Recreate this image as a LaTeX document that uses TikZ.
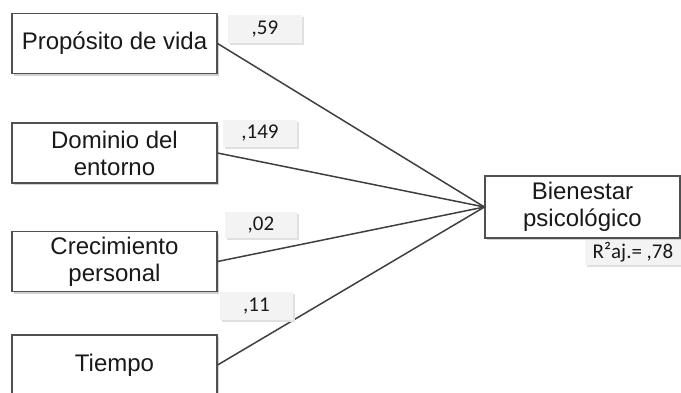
\documentclass[tikz,border=0pt]{standalone}
\usepackage{fontspec}
\setmainfont{Liberation Sans}
\newfontfamily\labelfont{Carlito}
\usepackage{xcolor}
\usepackage{tikz}
\usetikzlibrary{shadows}
\definecolor{edgegray}{HTML}{3F3F3F}
\definecolor{boxline}{HTML}{505050}
\definecolor{tagfill}{HTML}{F3F3F3}
\tikzset{
  varbox/.style={draw=boxline,line width=1.1pt,fill=white,rectangle,align=center,
    minimum width=205pt,minimum height=60pt,inner sep=0pt,text=black!90,
    font=\fontsize{24}{27}\selectfont,
    drop shadow={shadow xshift=1.5pt,shadow yshift=-2pt,fill=black!18,opacity=1}},
  coeftag/.style={fill=tagfill,rectangle,minimum width=73pt,minimum height=27pt,
    inner sep=0pt,text=black!90,font=\labelfont\fontsize{21}{23}\selectfont,
    drop shadow={shadow xshift=2pt,shadow yshift=-2pt,fill=black!12,opacity=1}},
  pathline/.style={draw=edgegray,line width=1.5pt}
}

\begin{document}
\begin{tikzpicture}[x=1pt,y=-1pt]
  \useasboundingbox (0,0) rectangle (681,392);
  \clip (0,0) rectangle (681,392);

  % Predictors
  \node[varbox] (prop) at (114.5,43.5) {Propósito de vida};
  \node[varbox] (dom) at (114.5,153) {Dominio del\\entorno};
  \node[varbox] (crec) at (114.5,261.5) {Crecimiento\\personal};
  \node[varbox] (tiem) at (114.5,365) {Tiempo};

  % Outcome
  \node[varbox,minimum width=195pt,minimum height=62pt] (bien) at (582.5,207) {Bienestar\\psicológico};

  % Paths
  \draw[pathline] (prop.east) -- (bien.west);
  \draw[pathline] (dom.east) -- (bien.west);
  \draw[pathline] (crec.east) -- (bien.west);
  \draw[pathline] (tiem.east) -- (bien.west);

  % Coefficients
  \node[coeftag,minimum width=74pt,minimum height=28pt] (c59) at (265,29) {,59};
  \node[coeftag,minimum width=74pt] (c149) at (260,133.5) {,149};
  \node[coeftag,minimum width=72pt,minimum height=26pt] (c02) at (261,225) {,02};
  \node[coeftag,minimum height=28pt] (c11) at (256.5,306) {,11};
  \node[coeftag,minimum width=96pt,minimum height=25pt] (r2) at (633,252.5) {R²aj.= ,78};
\end{tikzpicture}
\end{document}
